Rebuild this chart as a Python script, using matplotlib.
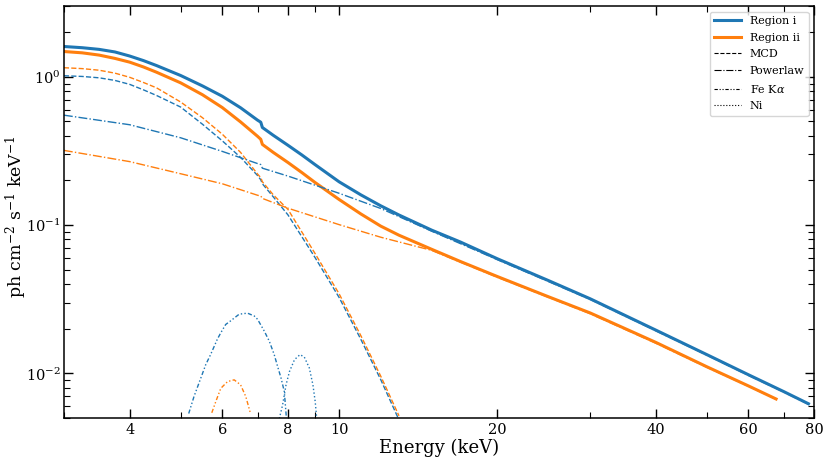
import matplotlib
matplotlib.use("Agg")
import matplotlib.pyplot as plt
from matplotlib.ticker import FixedLocator, FixedFormatter, NullFormatter

plt.rcParams['font.family'] = 'DejaVu Serif'
plt.rcParams['mathtext.fontset'] = 'dejavuserif'

# total models (ph cm^-2 s^-1 keV^-1)
e_tot_i = [3.0, 3.25, 3.5, 3.75, 4.0, 4.25, 4.5, 5.0, 5.5, 6.0, 6.5, 7.0, 7.1, 7.15, 7.5,
           8.0, 8.5, 9.0, 10, 11, 12, 13, 15, 17, 20, 25, 30, 40, 50, 60, 70, 78]
tot_i = [1.60, 1.57, 1.53, 1.47, 1.38, 1.285, 1.19, 1.02, 0.868, 0.739, 0.618, 0.510, 0.494,
         0.455, 0.403, 0.345, 0.297, 0.256, 0.196, 0.160, 0.135, 0.117, 0.0925, 0.0770,
         0.0593, 0.0423, 0.0319, 0.0196, 0.0134, 0.0098, 0.00755, 0.00625]

e_tot_ii = [3.0, 3.25, 3.5, 3.75, 4.0, 4.25, 4.5, 5.0, 5.5, 6.0, 6.5, 7.0, 7.1, 7.15, 7.5,
            8.0, 8.5, 9.0, 10, 11, 12, 13, 15, 17, 20, 25, 30, 40, 50, 60, 67.7]
tot_ii = [1.48, 1.45, 1.40, 1.33, 1.255, 1.164, 1.073, 0.910, 0.757, 0.620, 0.496, 0.397,
          0.379, 0.350, 0.309, 0.264, 0.226, 0.194, 0.149, 0.119, 0.0985, 0.0855, 0.0687,
          0.0569, 0.045, 0.0329, 0.0256, 0.0162, 0.0111, 0.00824, 0.00673]

# MCD component
e_mcd = [3.0, 3.25, 3.5, 3.75, 4.0, 4.25, 4.5, 5.0, 5.5, 6.0, 6.5, 7.0, 7.1, 7.15, 7.5,
         8.0, 9.0, 10, 11, 12, 13]
mcd_i = [1.016, 1.005, 0.984, 0.945, 0.889, 0.816, 0.748, 0.625, 0.479, 0.370, 0.286,
         0.216, 0.202, 0.190, 0.155, 0.117, 0.0606, 0.0326, 0.0170, 0.0091, 0.00486]
mcd_ii = [1.151, 1.135, 1.107, 1.058, 0.992, 0.915, 0.842, 0.676, 0.530, 0.410, 0.309,
          0.221, 0.209, 0.196, 0.160, 0.1274, 0.0645, 0.0345, 0.0180, 0.0096, 0.00518]

# powerlaw component
e_pl_i = [3, 4, 5, 6, 7, 7.1, 7.15, 8, 10, 12, 15, 20, 30, 40, 50, 60, 70, 78]
pl_i = [0.551, 0.475, 0.388, 0.314, 0.260, 0.256, 0.242, 0.214, 0.164, 0.1295, 0.091,
        0.0585, 0.0316, 0.0194, 0.0133, 0.0097, 0.0075, 0.0062]
e_pl_ii = [3, 4, 5, 6, 7, 7.1, 7.15, 8, 10, 12, 15, 20, 30, 40, 50, 60, 67.7]
pl_ii = [0.319, 0.268, 0.222, 0.190, 0.159, 0.157, 0.1514, 0.130, 0.1008, 0.0829, 0.0676,
         0.0445, 0.0253, 0.0160, 0.0110, 0.0082, 0.0067]

# Fe Ka line
e_fe_i = [5.18, 5.30, 5.46, 5.58, 5.70, 5.87, 5.96, 6.09, 6.22, 6.46, 6.70, 6.90, 7.00,
          7.21, 7.37, 7.53, 7.64, 7.76, 7.87, 7.95]
fe_i = [0.00537, 0.00698, 0.00929, 0.01146, 0.0134, 0.0170, 0.0188, 0.0214, 0.0226, 0.0251,
        0.0255, 0.0244, 0.0232, 0.0193, 0.0165, 0.0134, 0.0112, 0.00929, 0.00755, 0.0048]
e_fe_ii = [5.73, 5.83, 5.96, 6.14, 6.32, 6.50, 6.65, 6.78]
fe_ii = [0.00543, 0.00645, 0.00794, 0.00882, 0.00906, 0.00838, 0.00698, 0.00545]

# Ni line
e_ni_i = [7.70, 7.81, 7.93, 8.05, 8.23, 8.43, 8.59, 8.78, 8.92, 9.01, 9.07]
ni_i = [0.00496, 0.00612, 0.00838, 0.0103, 0.0124, 0.0134, 0.0129, 0.0109, 0.00838,
        0.00645, 0.00496]

c_i = '#1f77b4'
c_ii = '#ff7f0e'
fe_style = (0, (3, 1.6, 1, 1.6, 1, 1.6))

fig, ax = plt.subplots(figsize=(8.3, 4.61), dpi=100)
fig.subplots_adjust(left=0.077, right=0.981, top=0.987, bottom=0.093)

ax.plot(e_tot_i, tot_i, color=c_i, lw=2.2)
ax.plot(e_tot_ii, tot_ii, color=c_ii, lw=2.2)
ax.plot(e_mcd, mcd_i, color=c_i, lw=1, ls='--')
ax.plot(e_mcd, mcd_ii, color=c_ii, lw=1, ls='--')
ax.plot(e_pl_i, pl_i, color=c_i, lw=1, ls='-.')
ax.plot(e_pl_ii, pl_ii, color=c_ii, lw=1, ls='-.')
ax.plot(e_fe_i, fe_i, color=c_i, lw=1, ls=fe_style)
ax.plot(e_fe_ii, fe_ii, color=c_ii, lw=1, ls=fe_style)
ax.plot(e_ni_i, ni_i, color=c_i, lw=1, ls=':')

ax.set_xscale('log')
ax.set_yscale('log')
ax.set_xlim(3, 80)
ax.set_ylim(0.005, 3)

xt = [4, 6, 8, 10, 20, 40, 60, 80]
ax.xaxis.set_major_locator(FixedLocator(xt))
ax.xaxis.set_major_formatter(FixedFormatter([str(v) for v in xt]))
ax.xaxis.set_minor_locator(FixedLocator([3, 5, 7, 9, 30, 50, 70]))
ax.xaxis.set_minor_formatter(NullFormatter())

ax.tick_params(which='both', direction='in', top=True, right=True, labelsize=10.5)
ax.tick_params(which='major', length=6.5, width=1)
ax.tick_params(which='minor', length=4, width=0.8)
ax.tick_params(axis='y', pad=2.5)
for s in ax.spines.values():
    s.set_linewidth(1.1)

ax.set_xlabel('Energy (keV)', fontsize=13, labelpad=1)
ax.set_ylabel(r'ph cm$^{-2}$ s$^{-1}$ keV$^{-1}$', fontsize=12.5)
ax.yaxis.set_label_coords(-0.047, 0.49)

handles = [
    plt.Line2D([], [], color=c_i, lw=2.2),
    plt.Line2D([], [], color=c_ii, lw=2.2),
    plt.Line2D([], [], color='k', lw=0.8, ls='--'),
    plt.Line2D([], [], color='k', lw=0.8, ls='-.'),
    plt.Line2D([], [], color='k', lw=0.8, ls=fe_style),
    plt.Line2D([], [], color='k', lw=0.8, ls=':'),
]
labels = ['Region i', 'Region ii', 'MCD', 'Powerlaw', r'Fe K$\alpha$', 'Ni']
ax.legend(handles, labels, loc='upper right', fontsize=8, handlelength=2.4,
          labelspacing=0.6)

fig.savefig('out.png', dpi=100)
